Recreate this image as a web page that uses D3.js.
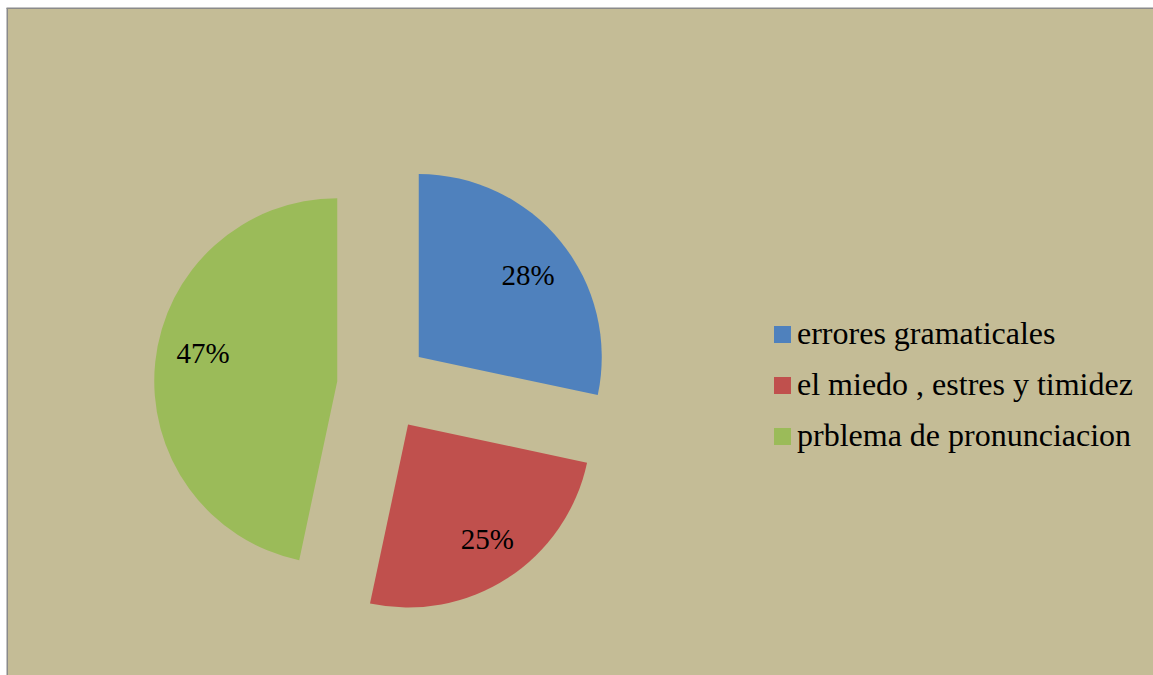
<!DOCTYPE html>
<html>
<head>
<meta charset="utf-8">
<script src="https://cdn.jsdelivr.net/npm/d3@7"></script>
<style>
  html, body { margin: 0; padding: 0; background: #ffffff; }
  svg { display: block; }
</style>
</head>
<body>
<svg id="chart" width="1153" height="675"></svg>
<script>
const categories = ["errores gramaticales", "el miedo , estres y timidez", "prblema de pronunciacion"];
const values = [17, 15, 28];
const labels = ["28%", "25%", "47%"];
const colors = ["#4F81BD", "#C0504D", "#9BBB59"];

const W = 1153, H = 675;
const FONT = "'Liberation Serif', 'Times New Roman', Times, serif";
const svg = d3.select("#chart");

svg.append("rect").attr("x", 8).attr("y", 9).attr("width", W).attr("height", H)
  .attr("fill", "#C4BC96");
svg.append("line").attr("x1", 7.25).attr("x2", 7.25).attr("y1", 8).attr("y2", H)
  .attr("stroke", "#8a8a8a").attr("stroke-width", 1.5);
svg.append("line").attr("x1", 6.5).attr("x2", W).attr("y1", 8.25).attr("y2", 8.25)
  .attr("stroke", "#8a8a8a").attr("stroke-width", 1.5);

const cx = 383, cy = 386, R = 183, explode = 46, labelR = 138;
// small manual label nudges (layout only)
const labelNudge = [[2, 5], [4, -1], [3, -14]];

const pie = d3.pie().sort(null).value(d => d)(values);
const arc = d3.arc().innerRadius(0).outerRadius(R);
const labelArc = d3.arc().innerRadius(labelR).outerRadius(labelR);

const g = svg.append("g").attr("transform", `translate(${cx},${cy})`);
const slices = g.selectAll("g.slice").data(pie).enter().append("g")
  .attr("class", "slice")
  .attr("transform", d => {
    const a = (d.startAngle + d.endAngle) / 2;
    return `translate(${explode * Math.sin(a)},${-explode * Math.cos(a)})`;
  });
slices.append("path").attr("d", arc).attr("fill", (d, i) => colors[i]);
slices.append("text")
  .attr("transform", (d, i) => {
    const c = labelArc.centroid(d);
    return `translate(${c[0] + labelNudge[i][0]},${c[1] + labelNudge[i][1]})`;
  })
  .attr("text-anchor", "middle")
  .attr("dy", "0.34em")
  .attr("font-family", FONT)
  .attr("font-size", 29)
  .attr("fill", "#000")
  .text((d, i) => labels[i]);

const legend = svg.append("g").attr("transform", "translate(774,326)");
const rowH = 51;
const items = legend.selectAll("g").data(categories).enter().append("g")
  .attr("transform", (d, i) => `translate(0,${i * rowH})`);
items.append("rect").attr("width", 17).attr("height", 17).attr("fill", (d, i) => colors[i]);
items.append("text").attr("x", 23).attr("y", 18)
  .attr("font-family", FONT)
  .attr("font-size", 32)
  .attr("fill", "#000")
  .text(d => d);
</script>
</body>
</html>
